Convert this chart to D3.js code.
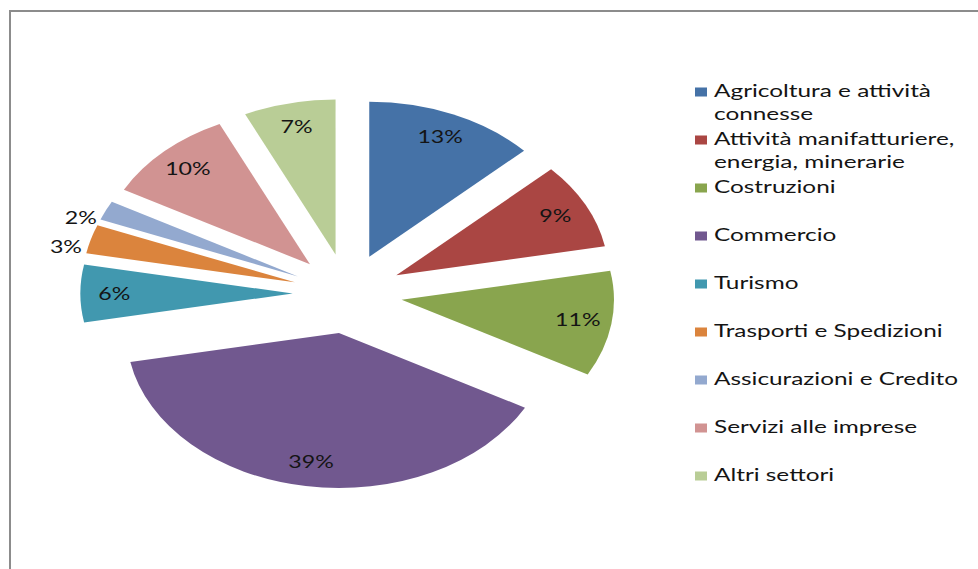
<!DOCTYPE html>
<html>
<head>
<meta charset="utf-8">
<script src="https://cdn.jsdelivr.net/npm/d3@7"></script>
<style>
  html, body { margin: 0; padding: 0; background: #ffffff; }
  svg { display: block; }
  text { font-family: Lato, "Open Sans", "Noto Sans", sans-serif; fill: #141414; }
</style>
</head>
<body>
<svg id="chart" width="978" height="569"></svg>
<script>
// Ripartizione per settore di attività (%)
const sectors = [
  "Agricoltura e attività connesse",
  "Attività manifatturiere, energia, minerarie",
  "Costruzioni",
  "Commercio",
  "Turismo",
  "Trasporti e Spedizioni",
  "Assicurazioni e Credito",
  "Servizi alle imprese",
  "Altri settori"
];
const legendLines = [
  ["Agricoltura e attività", "connesse"],
  ["Attività manifatturiere,", "energia, minerarie"],
  ["Costruzioni"],
  ["Commercio"],
  ["Turismo"],
  ["Trasporti e Spedizioni"],
  ["Assicurazioni e Credito"],
  ["Servizi alle imprese"],
  ["Altri settori"]
];
const shares = [13, 9, 11, 39, 6, 3, 2, 10, 7];
const colors = ["#4572A7", "#AA4643", "#89A54E", "#71588F", "#4198AF",
                "#DB843D", "#93A9CF", "#D19392", "#B9CD96"];

// Layout
const W = 978, H = 569;
const cx = 347.5, cy = 293.5;   // pie centre
const R = 155;                   // radius (vertical)
const SX = 1.37;                 // horizontal stretch of the whole drawing
const EXPLODE = 40;              // slice separation along the bisector
const FONT = 16.8;
const TX_LABEL = 1.38;           // horizontal stretch of slice labels
const TX_LEGEND = 1.45;          // horizontal stretch of legend text
const LABEL_R = 0.84;

const svg = d3.select("#chart");

// frame (top and left edges visible)
svg.append("path")
  .attr("d", `M10,${H} V11 H${W}`)
  .attr("fill", "none")
  .attr("stroke", "#8c8c8c")
  .attr("stroke-width", 2);

const pie = d3.pie().sort(null).value(d => d);
const arcs = pie(shares);
const arc = d3.arc().innerRadius(0).outerRadius(R);
const color = d3.scaleOrdinal().domain(sectors).range(colors);

const slices = svg.append("g").attr("class", "slices");

arcs.forEach((a, i) => {
  const mid = (a.startAngle + a.endAngle) / 2;
  const ox = EXPLODE * Math.sin(mid), oy = -EXPLODE * Math.cos(mid);
  const tx = cx + SX * ox, ty = cy + oy;

  slices.append("path")
    .attr("transform", `translate(${tx},${ty}) scale(${SX},1)`)
    .attr("d", arc(a))
    .attr("fill", color(sectors[i]));

  const label = `${a.data}%`;
  if (a.data >= 5) {
    const lx = tx + SX * LABEL_R * R * Math.sin(mid);
    const ly = ty - LABEL_R * R * Math.cos(mid);
    svg.append("text")
      .attr("transform", `translate(${lx},${ly}) scale(${TX_LABEL},1)`)
      .attr("text-anchor", "middle")
      .attr("dy", "0.36em")
      .style("font-size", FONT + "px")
      .text(label);
  } else {
    const ax = tx + SX * R * Math.sin(mid);
    const ay = ty - R * Math.cos(mid);
    svg.append("text")
      .attr("transform", `translate(${ax - 9},${ay + 7.5}) scale(${TX_LABEL},1)`)
      .attr("text-anchor", "end")
      .attr("dy", "0.36em")
      .style("font-size", FONT + "px")
      .text(label);
  }
});

// Legend
const legendY = d3.scalePoint().domain(sectors).range([97, 481]);
const legend = svg.append("g").attr("class", "legend");
sectors.forEach((s, i) => {
  const y = legendY(s);
  legend.append("rect")
    .attr("x", 695).attr("y", y - 9.5)
    .attr("width", 12).attr("height", 9)
    .attr("fill", color(s));
  legendLines[i].forEach((line, j) => {
    legend.append("text")
      .attr("transform", `translate(714,${y + j * 22.7}) scale(${TX_LEGEND},1)`)
      .style("font-size", FONT + "px")
      .text(line);
  });
});
</script>
</body>
</html>
